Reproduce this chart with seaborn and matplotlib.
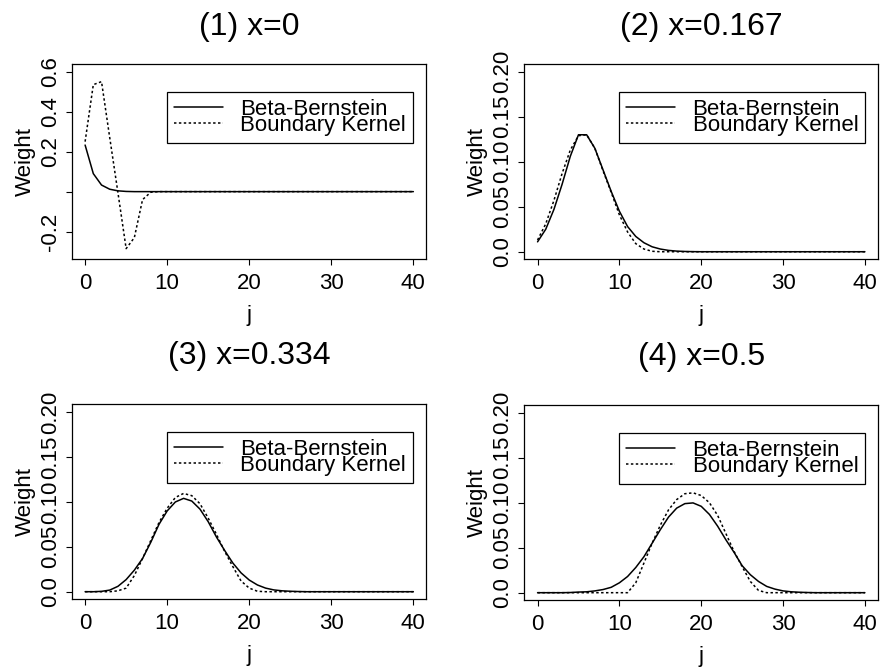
import numpy as np
import pandas as pd
import matplotlib
matplotlib.use("Agg")
import matplotlib.pyplot as plt
import seaborn as sns
from matplotlib.lines import Line2D

# Weights, j = 0..40
j = list(range(41))

bb_x0 = [0.233, 0.090, 0.033, 0.012, 0.004, 0.001, 0.0, 0.0, 0.0, 0.0,
         0.0, 0.0, 0.0, 0.0, 0.0, 0.0, 0.0, 0.0, 0.0, 0.0,
         0.0, 0.0, 0.0, 0.0, 0.0, 0.0, 0.0, 0.0, 0.0, 0.0,
         0.0, 0.0, 0.0, 0.0, 0.0, 0.0, 0.0, 0.0, 0.0, 0.0, 0.0]
bk_x0 = [0.250, 0.535, 0.550, 0.270, -0.005, -0.285, -0.230, -0.040, -0.003, 0.0,
         0.0, 0.0, 0.0, 0.0, 0.0, 0.0, 0.0, 0.0, 0.0, 0.0,
         0.0, 0.0, 0.0, 0.0, 0.0, 0.0, 0.0, 0.0, 0.0, 0.0,
         0.0, 0.0, 0.0, 0.0, 0.0, 0.0, 0.0, 0.0, 0.0, 0.0, 0.0]

bb_x167 = [0.011, 0.025, 0.047, 0.075, 0.106, 0.130, 0.130, 0.115, 0.091, 0.067,
           0.045, 0.028, 0.017, 0.010, 0.0055, 0.003, 0.0015, 0.0007, 0.0003, 0.0001,
           0.0, 0.0, 0.0, 0.0, 0.0, 0.0, 0.0, 0.0, 0.0, 0.0,
           0.0, 0.0, 0.0, 0.0, 0.0, 0.0, 0.0, 0.0, 0.0, 0.0, 0.0]
bk_x167 = [0.013, 0.031, 0.057, 0.087, 0.113, 0.129, 0.130, 0.115, 0.090, 0.066,
           0.041, 0.022, 0.009, 0.003, 0.0005, 0.0, 0.0, 0.0, 0.0, 0.0,
           0.0, 0.0, 0.0, 0.0, 0.0, 0.0, 0.0, 0.0, 0.0, 0.0,
           0.0, 0.0, 0.0, 0.0, 0.0, 0.0, 0.0, 0.0, 0.0, 0.0, 0.0]

bb_x334 = [0.0, 0.0, 0.0004, 0.0018, 0.006, 0.0135, 0.024, 0.037, 0.055, 0.075,
           0.090, 0.100, 0.104, 0.101, 0.092, 0.078, 0.061, 0.046, 0.032, 0.021,
           0.013, 0.0075, 0.004, 0.002, 0.001, 0.0005, 0.0002, 0.0, 0.0, 0.0,
           0.0, 0.0, 0.0, 0.0, 0.0, 0.0, 0.0, 0.0, 0.0, 0.0, 0.0]
bk_x334 = [0.0, 0.0, 0.0, 0.0, 0.001, 0.004, 0.018, 0.037, 0.057, 0.077,
           0.093, 0.105, 0.1095, 0.107, 0.098, 0.082, 0.064, 0.045, 0.028, 0.012,
           0.004, 0.0005, 0.0, 0.0, 0.0, 0.0, 0.0, 0.0, 0.0, 0.0,
           0.0, 0.0, 0.0, 0.0, 0.0, 0.0, 0.0, 0.0, 0.0, 0.0, 0.0]

bb_x5 = [0.0, 0.0, 0.0, 0.0, 0.0002, 0.0007, 0.001, 0.002, 0.0035, 0.006,
         0.011, 0.018, 0.028, 0.040, 0.055, 0.070, 0.084, 0.094, 0.099, 0.0998,
         0.096, 0.087, 0.074, 0.059, 0.045, 0.030, 0.020, 0.0125, 0.007, 0.004,
         0.002, 0.001, 0.0005, 0.0002, 0.0, 0.0, 0.0, 0.0, 0.0, 0.0, 0.0]
bk_x5 = [0.0, 0.0, 0.0, 0.0, 0.0, 0.0, 0.0, 0.0, 0.0, 0.0,
         0.0, 0.0, 0.011, 0.033, 0.055, 0.075, 0.092, 0.1035, 0.110, 0.111,
         0.108, 0.100, 0.086, 0.066, 0.046, 0.029, 0.0125, 0.0025, 0.0, 0.0,
         0.0, 0.0, 0.0, 0.0, 0.0, 0.0, 0.0, 0.0, 0.0, 0.0, 0.0]

titles = ["(1) x=0", "(2) x=0.167", "(3) x=0.334", "(4) x=0.5"]
series = [(bb_x0, bk_x0), (bb_x167, bk_x167), (bb_x334, bk_x334), (bb_x5, bk_x5)]
kernels = ["Beta-Bernstein", "Boundary Kernel"]

sns.set_theme(style="ticks")
plt.rcParams["font.family"] = ["Liberation Sans", "DejaVu Sans"]
plt.rcParams["axes.edgecolor"] = "black"
plt.rcParams["xtick.color"] = "black"
plt.rcParams["ytick.color"] = "black"
plt.rcParams["text.color"] = "black"
plt.rcParams["axes.labelcolor"] = "black"

fig = plt.figure(figsize=(8.81, 6.70), dpi=100)
boxes = [
    [0.0817, 0.6134, 0.4024, 0.2910],
    [0.5953, 0.6134, 0.4013, 0.2910],
    [0.0817, 0.1060, 0.4024, 0.2903],
    [0.5953, 0.1045, 0.4013, 0.2910],
]
title_pads = [21, 21, 29, 29]

dotted = (0, (1.6, 1.6))
for k, (box, title, (bb, bk)) in enumerate(zip(boxes, titles, series)):
    ax = fig.add_axes(box)
    df = pd.DataFrame({
        "j": j + j,
        "Weight": bb + bk,
        "kernel": [kernels[0]] * len(j) + [kernels[1]] * len(j),
    })
    sns.lineplot(data=df, x="j", y="Weight", style="kernel",
                 dashes={kernels[0]: "", kernels[1]: (1.6, 1.6)},
                 color="black", linewidth=1.1, legend=False, ax=ax)

    ax.set_xlim(-1.6, 41.6)
    ax.set_xticks([0, 10, 20, 30, 40])
    if k == 0:
        ax.set_ylim(-0.337, 0.638)
        ax.set_yticks([-0.2, 0.0, 0.2, 0.4, 0.6])
        ax.set_yticklabels(["-0.2", "", "0.2", "0.4", "0.6"])
    else:
        ax.set_ylim(-0.0081, 0.2086)
        ax.set_yticks([0.0, 0.05, 0.10, 0.15, 0.20])
        ax.set_yticklabels(["0.0", "0.05", "0.10", "0.15", "0.20"])

    for lab in ax.get_yticklabels():
        lab.set_rotation(90)
        lab.set_va("center")
    ax.tick_params(axis="both", labelsize=16, length=4, width=0.8,
                   direction="out", pad=4)
    ax.tick_params(axis="x", pad=6)
    ax.set_xlabel("j", fontsize=16, labelpad=8)
    ax.set_ylabel("Weight", fontsize=16, labelpad=3)
    ax.set_title(title, fontsize=23, pad=title_pads[k])
    for sp in ax.spines.values():
        sp.set_linewidth(0.9)
        sp.set_color("black")

    handles = [Line2D([0], [0], color="black", lw=1.1, linestyle="-"),
               Line2D([0], [0], color="black", lw=1.1, linestyle=dotted)]
    leg = ax.legend(handles, kernels, loc="upper left", mode="expand",
                    bbox_to_anchor=(0.268, 0.0, 0.694, 0.856), fontsize=16,
                    frameon=True, fancybox=False, framealpha=1,
                    edgecolor="black", borderpad=0.3, labelspacing=-0.22,
                    handlelength=2.2, handletextpad=0.8, borderaxespad=0)
    leg.get_frame().set_linewidth(0.9)

fig.savefig("out.png", dpi=100)
